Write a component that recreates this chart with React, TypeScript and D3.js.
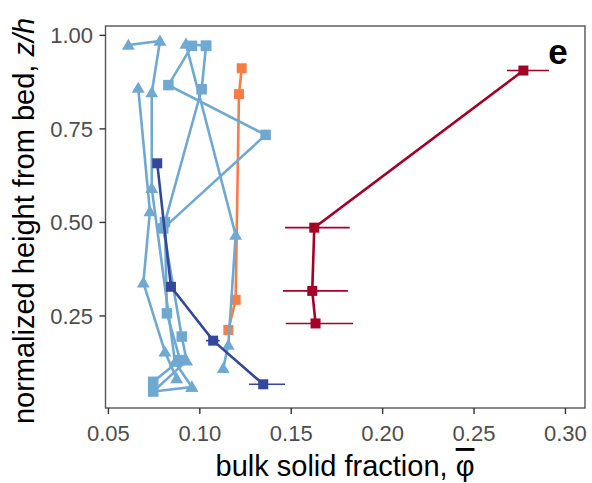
import React from 'react';
import * as d3 from 'd3';

const W = 592;
const H = 483;

// axis domains and ticks
const xDomain = [0.0484, 0.3107];
const yDomain = [0.004, 1.025];
const xTicks = [0.05, 0.1, 0.15, 0.2, 0.25, 0.3];
const yTicks = [0.25, 0.5, 0.75, 1.0];

// red series (dark red, squares, horizontal error bars)
const redX = [0.277, 0.1626, 0.1615, 0.1633];
const redY = [0.906, 0.486, 0.317, 0.23];
const redLo = [0.268, 0.1466, 0.1455, 0.147];
const redHi = [0.291, 0.182, 0.181, 0.1838];

// orange series (squares)
const orangeX = [0.1229, 0.1214, 0.1196, 0.1156];
const orangeY = [0.912, 0.843, 0.293, 0.2126];

// dark blue series (squares, error bars)
const navyX = [0.0767, 0.0842, 0.1073, 0.1347];
const navyY = [0.658, 0.328, 0.184, 0.0674];
const navyLo = [0.0767, 0.0842, 0.1033, 0.1269];
const navyHi = [0.0767, 0.0842, 0.1109, 0.1466];

// light blue profiles (t = triangle, s = square)
const lb1X = [0.0609, 0.0782, 0.0737, 0.0737, 0.0864, 0.0956];
const lb1Y = [0.974, 0.985, 0.847, 0.591, 0.127, 0.06];
const lb1S = ['t', 't', 't', 't', 't', 't'];

const lb2X = [0.0663, 0.0727, 0.0691, 0.0809, 0.0873];
const lb2Y = [0.859, 0.529, 0.339, 0.154, 0.083];
const lb2S = ['t', 't', 't', 't', 't'];

const lb3X = [0.1034, 0.0924, 0.1196, 0.1156, 0.1128];
const lb3Y = [0.972, 0.977, 0.466, 0.172, 0.11];
const lb3S = ['s', 't', 't', 't', 't'];

const lb4X = [0.1034, 0.101, 0.0809, 0.082, 0.0892, 0.0745];
const lb4Y = [0.972, 0.856, 0.501, 0.257, 0.132, 0.074];
const lb4S = ['s', 's', 's', 's', 's', 's'];

const lb5X = [0.0957, 0.0828, 0.136, 0.08, 0.0901, 0.0928, 0.0745, 0.0956];
const lb5Y = [0.972, 0.867, 0.734, 0.484, 0.195, 0.13, 0.048, 0.06];
const lb5S = ['s', 's', 's', 's', 's', 't', 's', 't'];

const C_RED = '#A50026';
const C_ORANGE = '#F67E45';
const C_NAVY = '#34479C';
const C_LIGHT = '#6FA9D2';

const FONT = '"Liberation Sans", Arial, Helvetica, sans-serif';

export default function App() {
  const x = d3.scaleLinear().domain(xDomain).range([105.5, 585]);
  const y = d3.scaleLinear().domain(yDomain).range([408, 26]);
  const line = d3
    .line<[number, number]>()
    .x((d) => x(d[0]))
    .y((d) => y(d[1]));

  const tri = d3.symbol(d3.symbolTriangle, 72)();

  const zip = (xs: number[], ys: number[]) => xs.map((v, i) => [v, ys[i]] as [number, number]);

  const marker = (shape: string, cx: number, cy: number, color: string, key: string, size = 10) =>
    shape === 't' ? (
      <path key={key} d={tri || ''} transform={`translate(${cx},${cy + 1})`} fill={color} />
    ) : (
      <rect key={key} x={cx - size / 2} y={cy - size / 2} width={size} height={size} fill={color} />
    );

  const light = [
    [lb1X, lb1Y, lb1S],
    [lb2X, lb2Y, lb2S],
    [lb3X, lb3Y, lb3S],
    [lb4X, lb4Y, lb4S],
    [lb5X, lb5Y, lb5S],
  ] as [number[], number[], string[]][];

  const SW = 2.6;

  return (
    <svg
      width={W}
      height={H}
      style={{ position: 'absolute', left: 0, top: 0, background: '#fff' }}
      fontFamily={FONT}
    >
      <rect x={0} y={0} width={W} height={H} fill="#fff" />

      {/* orange */}
      <path d={line(zip(orangeX, orangeY)) || ''} fill="none" stroke={C_ORANGE} strokeWidth={SW} />
      {orangeX.map((v, i) => marker('s', x(v), y(orangeY[i]), C_ORANGE, 'o' + i))}

      {/* light blue */}
      {light.map(([xs, ys, ss], k) => (
        <g key={'lb' + k}>
          <path d={line(zip(xs, ys)) || ''} fill="none" stroke={C_LIGHT} strokeWidth={SW} />
          {xs.map((v, i) => marker(ss[i], x(v), y(ys[i]), C_LIGHT, 'lbm' + k + '-' + i, 10.5))}
        </g>
      ))}

      {/* dark blue */}
      {navyX.map((v, i) => (
        <line
          key={'ne' + i}
          x1={x(navyLo[i])}
          x2={x(navyHi[i])}
          y1={y(navyY[i])}
          y2={y(navyY[i])}
          stroke={C_NAVY}
          strokeWidth={1.6}
        />
      ))}
      <path d={line(zip(navyX, navyY)) || ''} fill="none" stroke={C_NAVY} strokeWidth={SW} />
      {navyX.map((v, i) => marker('s', x(v), y(navyY[i]), C_NAVY, 'n' + i))}

      {/* red */}
      {redX.map((v, i) => (
        <line
          key={'re' + i}
          x1={x(redLo[i])}
          x2={x(redHi[i])}
          y1={y(redY[i])}
          y2={y(redY[i])}
          stroke={C_RED}
          strokeWidth={1.6}
        />
      ))}
      <path d={line(zip(redX, redY)) || ''} fill="none" stroke={C_RED} strokeWidth={SW} />
      {redX.map((v, i) => marker('s', x(v), y(redY[i]), C_RED, 'r' + i))}

      {/* panel border */}
      <rect x={105.5} y={26} width={479.5} height={382} fill="none" stroke="#555" strokeWidth={1.4} />

      {/* x axis ticks */}
      {xTicks.map((t) => (
        <g key={'xt' + t}>
          <line x1={x(t)} x2={x(t)} y1={408} y2={414} stroke="#333" strokeWidth={1.4} />
          <text x={x(t)} y={441} textAnchor="middle" fontSize={22} fill="#4D4D4D">
            {d3.format('.2f')(t)}
          </text>
        </g>
      ))}
      {/* y axis ticks */}
      {yTicks.map((t) => (
        <g key={'yt' + t}>
          <line x1={99.5} x2={105.5} y1={y(t)} y2={y(t)} stroke="#333" strokeWidth={1.4} />
          <text x={93} y={y(t)} dy="0.36em" textAnchor="end" fontSize={22} fill="#4D4D4D">
            {d3.format('.2f')(t)}
          </text>
        </g>
      ))}

      {/* axis titles */}
      <text x={345} y={476} textAnchor="middle" fontSize={29} fill="#000">
        bulk solid fraction,{' '}
        <tspan style={{ textDecoration: 'overline' }}>φ</tspan>
      </text>
      <text
        transform={`translate(34,${(26 + 408) / 2 + 4}) rotate(-90)`}
        textAnchor="middle"
        fontSize={29}
        fill="#000"
      >
        normalized height from bed, <tspan fontStyle="italic">z/h</tspan>
      </text>

      {/* panel tag */}
      <text x={558} y={64} textAnchor="middle" fontSize={35} fontWeight="bold" fill="#000">
        e
      </text>
    </svg>
  );
}
